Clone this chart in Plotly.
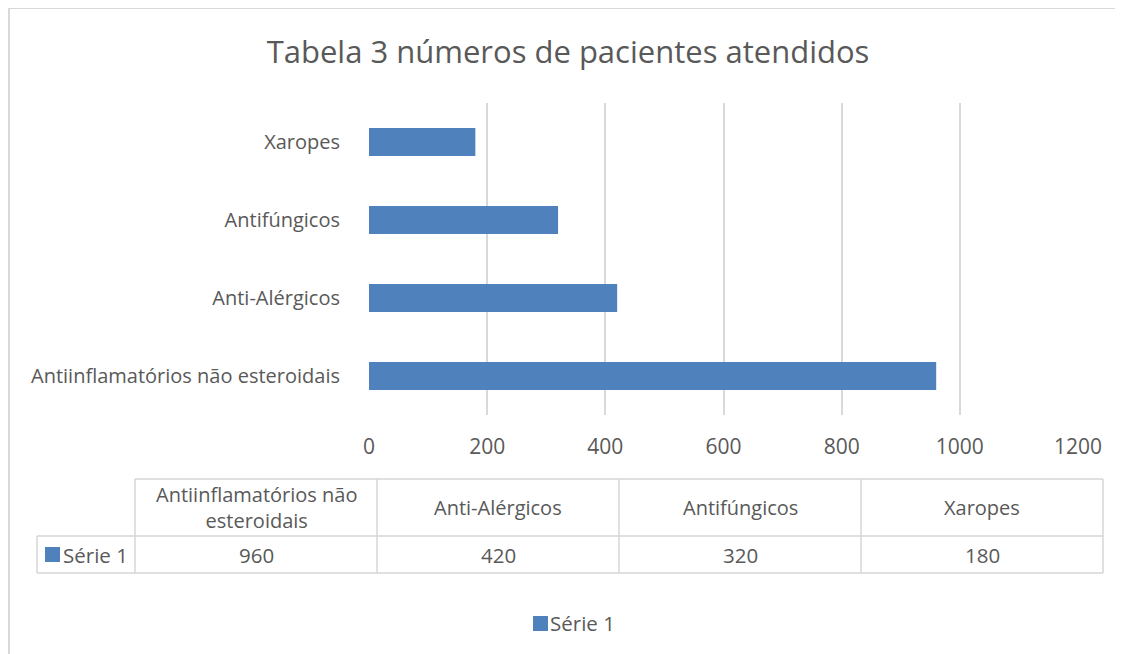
import plotly.graph_objects as go

categories = ["Antiinflamatórios não esteroidais", "Anti-Alérgicos", "Antifúngicos", "Xaropes"]
table_headers = ["Antiinflamatórios não<br>esteroidais", "Anti-Alérgicos", "Antifúngicos", "Xaropes"]
values = [960, 420, 320, 180]
series_name = "Série 1"
x_ticks = [0, 200, 400, 600, 800, 1000, 1200]
title_text = "Tabela 3 números de pacientes atendidos"

OFF = 8  # page body margin
W, H = 1123 - OFF, 654 - OFF
L, R, T, B = 369 - OFF, 1078 - OFF, 103 - OFF, 415 - OFF
BLUE = "#4f81bd"
TXT = "#595959"
GRID = "#d9d9d9"
FONT = "Open Sans"

def px(x):
    return (x - OFF - L) / (R - L)

def py(y):
    return (B - (y - OFF)) / (B - T)

fig = go.Figure()
fig.add_trace(go.Bar(
    y=categories, x=values, orientation="h", name=series_name,
    marker=dict(color=BLUE, line=dict(width=0)), width=0.36, showlegend=False,
))

fig.update_layout(
    width=W, height=H,
    margin=dict(l=L, r=W - R, t=T, b=H - B),
    paper_bgcolor="white", plot_bgcolor="white",
    font=dict(family=FONT, color=TXT, size=20),
    title=dict(text=title_text, x=(568 - OFF) / W, xanchor="center",
               y=1 - (52 - OFF) / H, yanchor="middle",
               font=dict(size=31, color=TXT, family=FONT)),
    showlegend=False,
)
fig.update_xaxes(range=[0, 1200], tickvals=x_ticks, showgrid=True, gridcolor=GRID, gridwidth=1.5,
                 zeroline=False, showline=False, ticks="", ticklabelstandoff=17,
                 tickfont=dict(size=21, color=TXT))
fig.update_yaxes(categoryorder="array", categoryarray=categories, showgrid=False,
                 showline=False, ticks="", ticklabelstandoff=28, zeroline=False,
                 tickfont=dict(size=20, color=TXT))

shapes = []
# outer chart border (top and left visible)
bl = dict(color="#d9d9d9", width=2)
shapes.append(dict(type="line", xref="paper", yref="paper", x0=px(9), x1=px(1140), y0=py(8), y1=py(8), line=bl))
shapes.append(dict(type="line", xref="paper", yref="paper", x0=px(9), x1=px(9), y0=py(8), y1=py(700), line=bl))
# data table lines
cols = [135, 377, 619, 861, 1103]
top, mid, bot = 479, 536, 573
left = 37
tl = dict(color="#d6d6d6", width=1.5)
shapes.append(dict(type="line", xref="paper", yref="paper", x0=px(cols[0]), x1=px(cols[-1]), y0=py(top), y1=py(top), line=tl))
shapes.append(dict(type="line", xref="paper", yref="paper", x0=px(left), x1=px(cols[-1]), y0=py(mid), y1=py(mid), line=tl))
shapes.append(dict(type="line", xref="paper", yref="paper", x0=px(left), x1=px(cols[-1]), y0=py(bot), y1=py(bot), line=tl))
shapes.append(dict(type="line", xref="paper", yref="paper", x0=px(left), x1=px(left), y0=py(mid), y1=py(bot), line=tl))
for c in cols:
    shapes.append(dict(type="line", xref="paper", yref="paper", x0=px(c), x1=px(c), y0=py(top), y1=py(bot), line=tl))
# legend key in table
shapes.append(dict(type="rect", xref="paper", yref="paper", x0=px(45), x1=px(60), y0=py(562), y1=py(547),
                   fillcolor=BLUE, line=dict(width=0)))
# bottom legend key
shapes.append(dict(type="rect", xref="paper", yref="paper", x0=px(533), x1=px(548), y0=py(631), y1=py(616),
                   fillcolor=BLUE, line=dict(width=0)))

annotations = []
for i, (h, v) in enumerate(zip(table_headers, values)):
    cx = (cols[i] + cols[i + 1]) / 2
    annotations.append(dict(text=h, x=px(cx), y=py((top + mid) / 2), xref="paper", yref="paper",
                            showarrow=False, xanchor="center", yanchor="middle",
                            font=dict(size=20, color=TXT)))
    annotations.append(dict(text=str(v), x=px(cx), y=py((mid + bot) / 2), xref="paper", yref="paper",
                            showarrow=False, xanchor="center", yanchor="middle",
                            font=dict(size=20.5, color=TXT)))
annotations.append(dict(text=series_name, x=px(61), y=py((mid + bot) / 2), xref="paper", yref="paper",
                        showarrow=False, xanchor="left", yanchor="middle", font=dict(size=20.5, color=TXT)))
annotations.append(dict(text=series_name, x=px(548), y=py(623), xref="paper", yref="paper",
                        showarrow=False, xanchor="left", yanchor="middle", font=dict(size=20.5, color=TXT)))

fig.update_layout(shapes=shapes, annotations=annotations)
fig.write_html("out.html")
